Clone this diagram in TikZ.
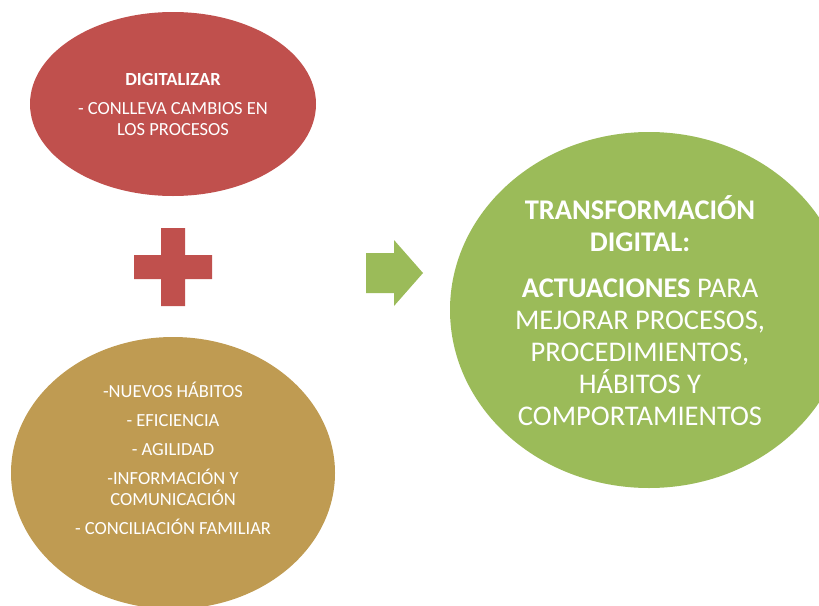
\documentclass[tikz,border=0pt]{standalone}
\usepackage{fontspec}
\setmainfont{Carlito}
\usetikzlibrary{calc,shapes.geometric}
\definecolor{digired}{HTML}{C0504D}
\definecolor{habgold}{HTML}{BF9B52}
\definecolor{transgreen}{HTML}{9BBB59}

\begin{document}
\begin{tikzpicture}[x=1pt,y=-1pt,
	blob/.style={ellipse,draw=none,inner sep=0pt,outer sep=0pt},
	blobtext/.style={text=white,align=center,inner sep=0pt},
	smalltext/.style={font=\fontsize{18.5}{21}\selectfont},
	bigtext/.style={font=\fontsize{28.5}{32}\selectfont}]
\useasboundingbox (0,0) rectangle (819,605);
\clip (0,0) rectangle (819,605);

% ellipses
\node[blob,fill=digired,minimum width=286pt,minimum height=184pt](dig) at (173,104) {};
\node[blob,fill=habgold,minimum width=324pt,minimum height=272pt](hab) at (173,473) {};
\node[blob,fill=transgreen,minimum width=398pt,minimum height=356pt](trans) at (649,310) {};

% texts
\node[blobtext,smalltext](digtxt) at (dig.center) {%
\textbf{DIGITALIZAR}\\[8pt]
- CONLLEVA CAMBIOS EN\\
LOS PROCESOS};
\node[blobtext,smalltext](habtxt) at ($(hab.center) + (0,-15)$) {%
-NUEVOS HÁBITOS\\[8pt]
- EFICIENCIA\\[8pt]
- AGILIDAD\\[8pt]
-INFORMACIÓN Y\\
COMUNICACIÓN\\[8pt]
- CONCILIACIÓN FAMILIAR};
\node[blobtext,bigtext](transtxt) at ($(trans.center) + (-9,1)$) {%
\textbf{TRANSFORMACIÓN}\\
\textbf{DIGITAL:}\\[14pt]
\textbf{ACTUACIONES} PARA\\
MEJORAR PROCESOS,\\
PROCEDIMIENTOS,\\
HÁBITOS Y\\
COMPORTAMIENTOS};

\def\plusarm{39}
\def\plushalf{12}
\def\arrowbody{20}
\def\arrowhead{33}

\coordinate (P) at (173,267);
\coordinate (A) at (423,273);

% plus
\fill[digired]
	($(P) + (-\plushalf,-\plusarm)$)
	-- ($(P) + ( \plushalf,-\plusarm)$)
	-- ($(P) + ( \plushalf,-\plushalf)$)
	-- ($(P) + ( \plusarm,-\plushalf)$)
	-- ($(P) + ( \plusarm, \plushalf)$)
	-- ($(P) + ( \plushalf, \plushalf)$)
	-- ($(P) + ( \plushalf, \plusarm)$)
	-- ($(P) + (-\plushalf, \plusarm)$)
	-- ($(P) + (-\plushalf, \plushalf)$)
	-- ($(P) + (-\plusarm, \plushalf)$)
	-- ($(P) + (-\plusarm,-\plushalf)$)
	-- ($(P) + (-\plushalf,-\plushalf)$)
	-- cycle;

% arrow
\fill[transgreen]
	($(A) + (-57,-\arrowbody)$)
	-- ($(A) + (-29,-\arrowbody)$)
	-- ($(A) + (-29,-\arrowhead)$)
	-- (A)
	-- ($(A) + (-29, \arrowhead)$)
	-- ($(A) + (-29, \arrowbody)$)
	-- ($(A) + (-57, \arrowbody)$)
	-- cycle;
\end{tikzpicture}
\end{document}
